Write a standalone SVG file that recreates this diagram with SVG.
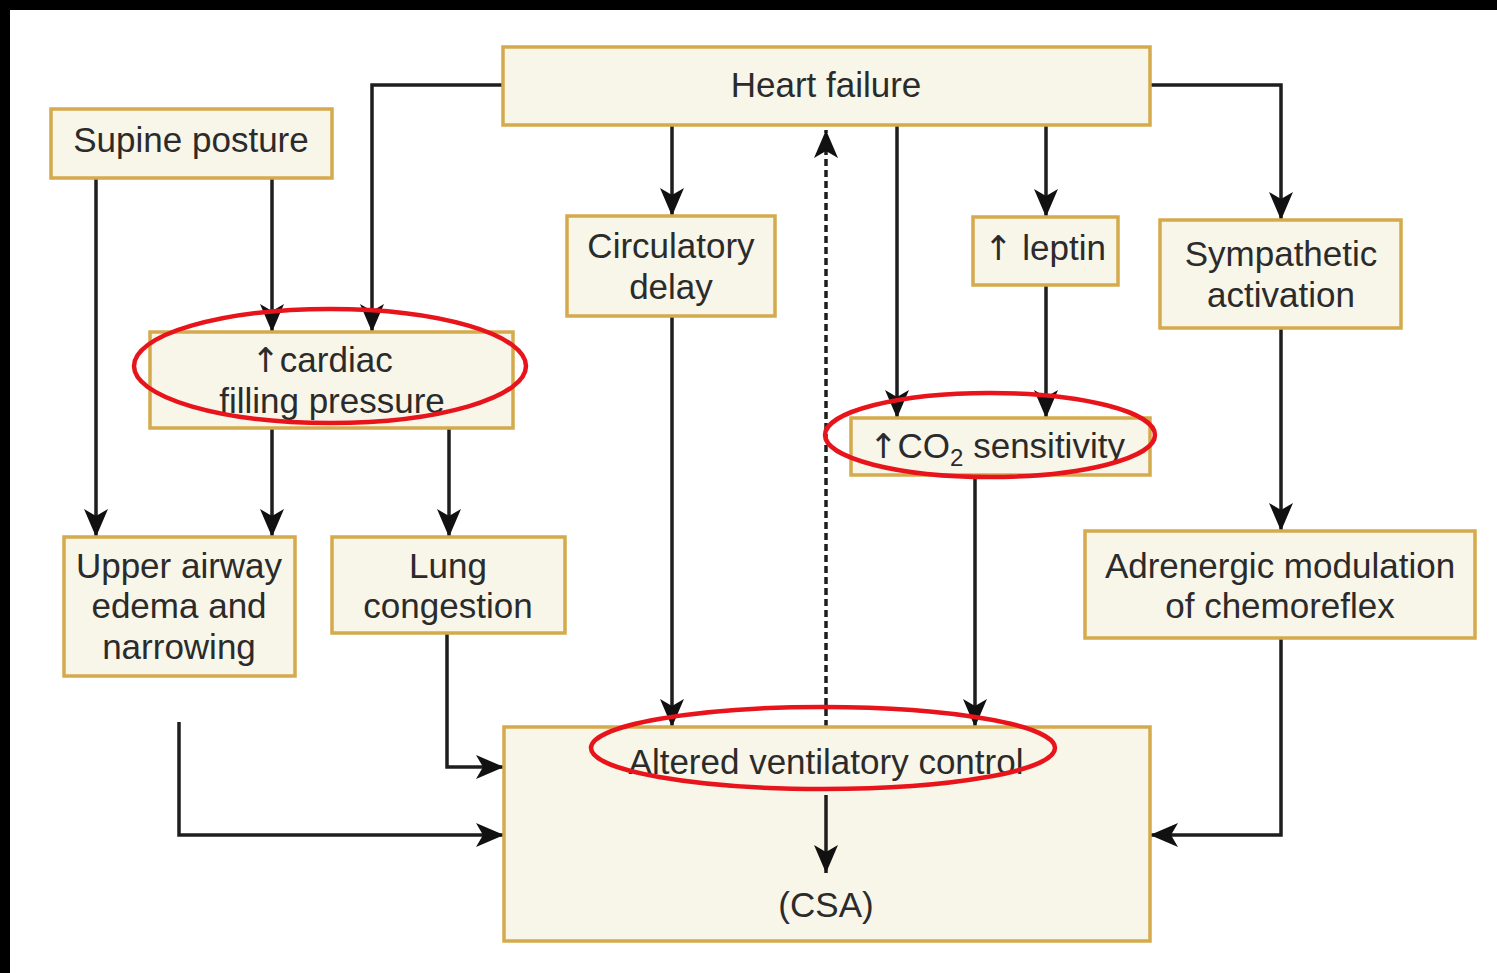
<svg xmlns="http://www.w3.org/2000/svg" width="1497" height="973" viewBox="0 0 1497 973">
<defs>
<style>
.box{fill:#f8f5e9;stroke:#d4aa4c;stroke-width:3.5}
.t{font-family:"Liberation Sans",Arial,sans-serif;font-size:35px;fill:#2b2b2b;text-anchor:middle}
.up{font-family:"DejaVu Sans",sans-serif;font-size:34px}
.c{fill:none;stroke:#1e1e1e;stroke-width:3.5}
.d{fill:none;stroke:#1e1e1e;stroke-width:3.5;stroke-dasharray:7,4}
.r{fill:none;stroke:#e8141b;stroke-width:4.5}
</style>
<marker id="ah" viewBox="0 0 28 24" refX="28" refY="12" markerWidth="28" markerHeight="24" markerUnits="userSpaceOnUse" orient="auto">
<path d="M0,0 L28,12 L0,24 L7,12 z" fill="#111"/>
</marker>
</defs>
<rect x="0" y="0" width="1497" height="973" fill="#ffffff"/>
<rect x="0" y="0" width="1497" height="10" fill="#000"/>
<rect x="0" y="0" width="10" height="973" fill="#000"/>

<g id="connectors">
<path class="c" d="M503,85 H372 V332" marker-end="url(#ah)"/>
<path class="c" d="M1150,85 H1281 V220" marker-end="url(#ah)"/>
<path class="c" d="M672,125 V216" marker-end="url(#ah)"/>
<path class="d" d="M826,727 V130" marker-end="url(#ah)"/>
<path class="c" d="M897,125 V418" marker-end="url(#ah)"/>
<path class="c" d="M1046,125 V217" marker-end="url(#ah)"/>
<path class="c" d="M1046,285 V418" marker-end="url(#ah)"/>
<path class="c" d="M96,178 V537" marker-end="url(#ah)"/>
<path class="c" d="M272,178 V332" marker-end="url(#ah)"/>
<path class="c" d="M272,428 V537" marker-end="url(#ah)"/>
<path class="c" d="M449,428 V537" marker-end="url(#ah)"/>
<path class="c" d="M672,316 V727" marker-end="url(#ah)"/>
<path class="c" d="M975,475 V727" marker-end="url(#ah)"/>
<path class="c" d="M1281,328 V531" marker-end="url(#ah)"/>
<path class="c" d="M1281,638 V835 H1150" marker-end="url(#ah)"/>
<path class="c" d="M447,633 V767 H504" marker-end="url(#ah)"/>
<path class="c" d="M179,722 V835 H504" marker-end="url(#ah)"/>
</g>

<g id="heart-failure">
<rect class="box" x="503" y="47" width="647" height="78"/>
<text class="t" x="826" y="97">Heart failure</text>
</g>
<g id="supine-posture">
<rect class="box" x="51" y="109" width="281" height="69"/>
<text class="t" x="191" y="152">Supine posture</text>
</g>
<g id="cardiac-filling">
<rect class="box" x="150" y="332" width="363" height="96"/>
<text class="t" x="322" y="372"><tspan class="up">↑</tspan>cardiac</text>
<text class="t" x="332" y="413">filling pressure</text>
</g>
<g id="circulatory-delay">
<rect class="box" x="567" y="216" width="208" height="100"/>
<text class="t" x="671" y="258">Circulatory</text>
<text class="t" x="671" y="299">delay</text>
</g>
<g id="leptin">
<rect class="box" x="973" y="217" width="145" height="68"/>
<text class="t" x="1045" y="260"><tspan class="up">↑</tspan> leptin</text>
</g>
<g id="sympathetic">
<rect class="box" x="1160" y="220" width="241" height="108"/>
<text class="t" x="1281" y="266">Sympathetic</text>
<text class="t" x="1281" y="307">activation</text>
</g>
<g id="co2-sensitivity">
<rect class="box" x="851" y="418" width="299" height="57"/>
<text class="t" x="997" y="458"><tspan class="up">↑</tspan>CO<tspan font-size="24" dy="8">2</tspan><tspan dy="-8"> sensitivity</tspan></text>
</g>
<g id="upper-airway">
<rect class="box" x="64" y="537" width="231" height="139"/>
<text class="t" x="179" y="578">Upper airway</text>
<text class="t" x="179" y="618">edema and</text>
<text class="t" x="179" y="659">narrowing</text>
</g>
<g id="lung-congestion">
<rect class="box" x="332" y="537" width="233" height="96"/>
<text class="t" x="448" y="578">Lung</text>
<text class="t" x="448" y="618">congestion</text>
</g>
<g id="adrenergic">
<rect class="box" x="1085" y="531" width="390" height="107"/>
<text class="t" x="1280" y="578">Adrenergic modulation</text>
<text class="t" x="1280" y="618">of chemoreflex</text>
</g>
<g id="altered-ventilatory">
<rect class="box" x="504" y="727" width="646" height="214"/>
<text class="t" x="826" y="774">Altered ventilatory control</text>
<text class="t" x="826" y="917">(CSA)</text>
<path class="c" d="M826,795 V873" marker-end="url(#ah)"/>
</g>

<g id="highlights">
<ellipse class="r" cx="330" cy="366" rx="196" ry="57"/>
<ellipse class="r" cx="990" cy="435" rx="165" ry="42"/>
<ellipse class="r" cx="823" cy="748" rx="232" ry="41"/>
</g>
</svg>
